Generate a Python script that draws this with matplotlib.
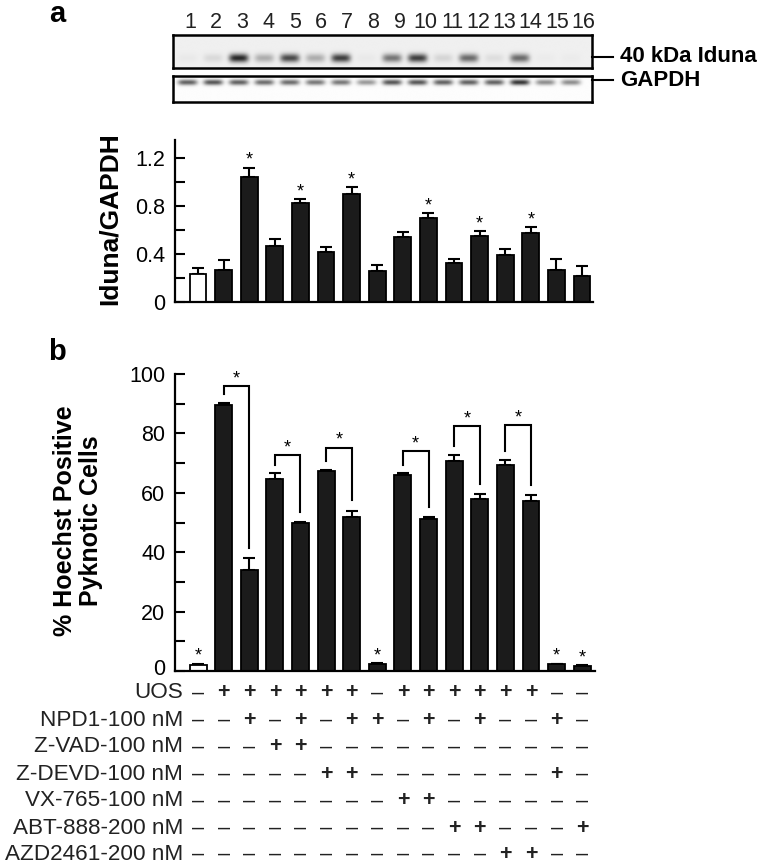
import matplotlib
matplotlib.use('Agg')
import matplotlib.pyplot as plt
from matplotlib import transforms
from matplotlib.lines import Line2D
import numpy as np

plt.rcParams['font.family'] = ['Liberation Sans', 'DejaVu Sans']

# ---- data ----
lanes = list(range(1, 17))
iduna_band = [0.03, 0.10, 0.90, 0.30, 0.75, 0.30, 0.80, 0.03, 0.55, 0.80, 0.12, 0.60, 0.08, 0.60, 0.02, 0.02]
gapdh_band = [0.70, 0.75, 0.70, 0.65, 0.65, 0.60, 0.60, 0.45, 0.75, 0.75, 0.70, 0.70, 0.70, 0.90, 0.50, 0.50]

ratio_mean = [0.23, 0.27, 1.04, 0.47, 0.825, 0.42, 0.90, 0.26, 0.54, 0.70, 0.325, 0.55, 0.39, 0.575, 0.27, 0.22]
ratio_err = [0.05, 0.08, 0.08, 0.055, 0.035, 0.04, 0.06, 0.045, 0.04, 0.04, 0.035, 0.04, 0.05, 0.05, 0.09, 0.08]
ratio_sig = [3, 5, 7, 10, 12, 14]

pyk_mean = [2.0, 89.5, 34.0, 64.5, 49.7, 67.3, 52.0, 2.2, 66.0, 51.3, 70.6, 58.0, 69.5, 57.3, 2.2, 1.7]
pyk_err = [0.5, 0.7, 4.0, 2.0, 0.5, 0.3, 2.0, 0.4, 0.5, 0.4, 2.1, 1.5, 1.5, 1.8, 0.3, 0.3]
pyk_sig = [1, 8, 15, 16]
pyk_pairs = [(2, 3), (4, 5), (6, 7), (9, 10), (11, 12), (13, 14)]
pair_tops = [96, 72.7, 75.2, 74, 82.5, 82.7]

treat_names = ['UOS', 'NPD1-100 nM', 'Z-VAD-100 nM', 'Z-DEVD-100 nM',
               'VX-765-100 nM', 'ABT-888-200 nM', 'AZD2461-200 nM']
treat_table = ['-++++++-++++++--',
               '--+-+-++-+-+--+-',
               '---++-----------',
               '-----++-------+-',
               '--------++------',
               '----------++---+',
               '------------++--']

W, H = 764, 866
def fx(px):
    return px / W
def fy(py):
    return 1 - py / H

fig = plt.figure(figsize=(W / 100, H / 100), dpi=100)
ink = '#1b1b1b'

# ---- blots ----
x_lo, x_hi = 0.02, 16.39
lane_x = np.array(lanes) - 0.42

def blot(ax, amps, yc, half_h, bg):
    xs = np.linspace(x_lo, x_hi, 600)
    ys = np.linspace(1, 0, 80)
    X, Y = np.meshgrid(xs, ys)
    img = np.full_like(X, bg)
    for lx, a in zip(lane_x, amps):
        img += a * np.exp(-((X - lx) / 0.38) ** 4) * np.exp(-((Y - yc) / half_h) ** 2)
    ax.imshow(np.clip(img, 0, 1), cmap='gray_r', vmin=0, vmax=1.15, aspect='auto',
              extent=[x_lo, x_hi, 0, 1], interpolation='bilinear')
    ax.set_xlim(x_lo, x_hi)
    ax.set_ylim(0, 1)
    ax.set_xticks([])
    ax.set_yticks([])
    for s in ax.spines.values():
        s.set_linewidth(1.8)

ax_top = fig.add_axes([fx(173), fy(68), fx(592) - fx(173), (68 - 35) / H])
blot(ax_top, iduna_band, 0.30, 0.13, 0.07)
ax_bot = fig.add_axes([fx(173), fy(102), fx(592) - fx(173), (102 - 76) / H])
blot(ax_bot, gapdh_band, 0.76, 0.11, 0.01)

for i, lx in enumerate(np.linspace(190, 583, 16)):
    fig.text(fx(lx), fy(22), str(lanes[i]), ha='center', va='center', fontsize=15.5, color='#222222')

for py, lab in [(57, '40 kDa Iduna'), (80, 'GAPDH')]:
    fig.add_artist(Line2D([fx(592), fx(613)], [fy(py), fy(py)], color='black', lw=1.5))
    fig.text(fx(620), fy(py), lab, ha='left', va='center', fontsize=16, fontweight='bold')

fig.text(fx(57), fy(14), 'a', ha='center', va='center', fontsize=21, fontweight='bold')
fig.text(fx(57), fy(352), 'b', ha='center', va='center', fontsize=21, fontweight='bold')

def style_axis(ax):
    for s in ['top', 'right']:
        ax.spines[s].set_visible(False)
    for s in ['left', 'bottom']:
        ax.spines[s].set_linewidth(1.6)
    ax.tick_params(axis='y', which='both', direction='in', length=7, width=1.5, labelsize=15.5, pad=7)
    ax.tick_params(axis='x', bottom=False, labelbottom=False)

def star(ax, x, y, fs=13):
    ax.annotate('*', (x, y), xytext=(0, -0.58 * fs), textcoords='offset points',
                ha='center', va='baseline', fontsize=fs, annotation_clip=False)

# ---- panel a ----
axa = fig.add_axes([fx(175), fy(302), fx(593) - fx(175), (302 - 140) / H])
colors_a = ['white'] + [ink] * 15
axa.bar(lanes, ratio_mean, width=0.66, color=colors_a, edgecolor='black', linewidth=1.3, zorder=2)
axa.errorbar(lanes, ratio_mean, yerr=[np.zeros(16), ratio_err], fmt='none', ecolor='black',
             elinewidth=1.5, capsize=4, capthick=1.5, zorder=1)
for i in ratio_sig:
    star(axa, i, ratio_mean[i - 1] + ratio_err[i - 1] + 0.11)
axa.set_xlim(0.1, 16.43)
axa.set_ylim(0, 1.35)
axa.set_yticks([0, 0.4, 0.8, 1.2])
axa.set_yticklabels(['0', '0.4', '0.8', '1.2'])
axa.set_yticks([0.2, 0.6, 1.0], minor=True)
style_axis(axa)
fig.text(fx(110), fy(219), 'Iduna/GAPDH', rotation=90, ha='center', va='center',
         fontsize=19, fontweight='bold')

# ---- panel b ----
axb = fig.add_axes([fx(175), fy(671), fx(595) - fx(175), (671 - 374) / H])
colors_b = ['white'] + [ink] * 15
axb.bar(lanes, pyk_mean, width=0.66, color=colors_b, edgecolor='black', linewidth=1.3, zorder=2)
axb.errorbar(lanes, pyk_mean, yerr=[np.zeros(16), pyk_err], fmt='none', ecolor='black',
             elinewidth=1.5, capsize=4, capthick=1.5, zorder=1)
for i in pyk_sig:
    star(axb, i, pyk_mean[i - 1] + pyk_err[i - 1] + 4.5)
for (l, r), top in zip(pyk_pairs, pair_tops):
    yl = pyk_mean[l - 1] + pyk_err[l - 1] + 3
    yr = pyk_mean[r - 1] + pyk_err[r - 1] + 3.5
    axb.plot([l, l, r, r], [yl, top, top, yr], color='black', lw=1.5, clip_on=False,
             solid_joinstyle='miter')
    star(axb, (l + r) / 2, top + 4.5)
axb.set_xlim(0.1, 16.5)
axb.set_ylim(0, 100)
axb.set_yticks(range(0, 101, 20))
axb.set_yticks(range(10, 100, 20), minor=True)
style_axis(axb)
# lift the "0" label a little so it clears the table below
zero_lab = axb.get_yticklabels()[0]
zero_lab.set_transform(zero_lab.get_transform() +
                       transforms.ScaledTranslation(0, 3 / 72, fig.dpi_scale_trans))
fig.text(fx(78), fy(521), '% Hoechst Positive\nPyknotic Cells', rotation=90, ha='center',
         va='center', fontsize=18, fontweight='bold', multialignment='center', linespacing=1.1)

# ---- treatment table ----
tr = transforms.blended_transform_factory(axb.transData, fig.transFigure)
row_y = [693, 720, 747, 774, 801, 828, 854]
for name, row, py in zip(treat_names, treat_table, row_y):
    fig.text(fx(183), fy(py), name, ha='right', va='center', fontsize=16.2, color='#222222')
    for i, c in enumerate(row):
        sym = '+' if c == '+' else '\u2013'
        axb.text(lanes[i], fy(py), sym, transform=tr, ha='center', va='center',
                 fontsize=15.5, color='#222222', fontweight='bold' if c == '+' else 'normal')

fig.savefig('out.png', dpi=100)
